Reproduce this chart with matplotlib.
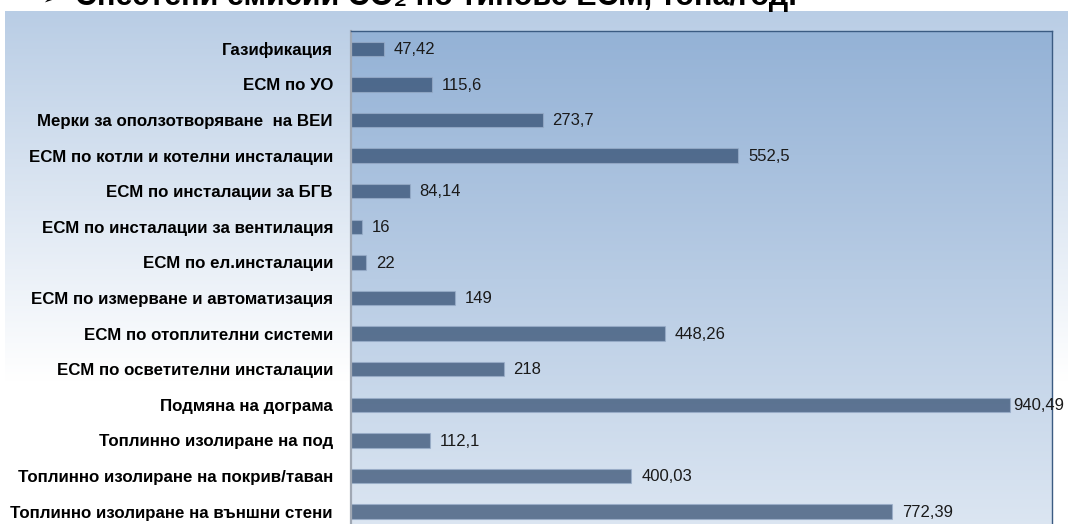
import numpy as np
import matplotlib.pyplot as plt
from matplotlib.colors import LinearSegmentedColormap

# Data (top to bottom as shown)
categories = [
    "Газификация",
    "ЕСМ по УО",
    "Мерки за оползотворяване  на ВЕИ",
    "ЕСМ по котли и котелни инсталации",
    "ЕСМ по инсталации за БГВ",
    "ЕСМ по инсталации за вентилация",
    "ЕСМ по ел.инсталации",
    "ЕСМ по измерване и автоматизация",
    "ЕСМ по отоплителни системи",
    "ЕСМ по осветителни инсталации",
    "Подмяна на дограма",
    "Топлинно изолиране на под",
    "Топлинно изолиране на покрив/таван",
    "Топлинно изолиране на външни стени",
]
values = [47.42, 115.6, 273.7, 552.5, 84.14, 16, 22, 149, 448.26, 218,
          940.49, 112.1, 400.03, 772.39]
title = "Спестени емисии CO₂ по типове ЕСМ, тона/год."

W, H = 1068, 524
fig = plt.figure(figsize=(W / 100, H / 100), dpi=100)
fig.patch.set_facecolor("white")
fam = ["Liberation Sans", "DejaVu Sans"]

# outer chart area: vertical gradient fading to white
bg = fig.add_axes([5 / W, 0, 1 - 5 / W, 1 - 11 / H], zorder=-2)
bg.set_axis_off()
yy = np.linspace(0, 1, 256)  # 0 = top
frac = np.clip(yy * (513 / 369), 0, 1)
top_c = np.array([0xB9, 0xCD, 0xE5]) / 255
grad = top_c[None, :] * (1 - frac[:, None]) + frac[:, None]
bg.imshow(grad[:, None, :], extent=[0, 1, 0, 1], aspect="auto", origin="upper")

# plot area (runs a little past the bottom edge, like the reference)
ax = fig.add_axes([351 / W, 1 - 529.4 / H, (1052 - 351) / W, 498.4 / H])
cmap = LinearSegmentedColormap.from_list("pa", ["#94B2D6", "#DCE6F2"])
ax.imshow(np.linspace(0, 1, 256)[:, None], cmap=cmap, extent=[0, 1, 0, 1],
          transform=ax.transAxes, aspect="auto", origin="upper", zorder=0)

y = np.arange(len(categories))
ax.barh(y, values, height=0.4, color="#2D486C", alpha=0.7,
        edgecolor="#9AAECA", linewidth=0.8, zorder=2)

ax.set_xlim(0, 1000)
for yi, v in zip(y, values):
    # the longest label sits tight against its bar so it fits in the frame
    pad = 2 if v > 0.9 * ax.get_xlim()[1] else 7
    ax.annotate(f"{v:g}".replace(".", ","), (v, yi), xytext=(pad, -0.5),
                textcoords="offset points", va="center", ha="left",
                fontsize=12, color="#1a1a1a", family=fam, zorder=3,
                annotation_clip=False)

ax.set_ylim(len(categories) - 0.5, -0.5)
ax.set_yticks(y)
ax.set_yticklabels(categories, fontsize=12.2, fontweight="bold", family=fam)
ax.tick_params(axis="y", length=0, pad=13)
ax.set_xticks([])
ax.set_facecolor("none")

ax.spines["left"].set_color("#A0A8B4")
ax.spines["left"].set_linewidth(1.6)
for s in ("top", "right"):
    ax.spines[s].set_color("#3B5B82")
    ax.spines[s].set_linewidth(1.0)
ax.spines["bottom"].set_visible(False)

# title, cut off at the top edge as in the reference
fig.text(42 / W, 1 - 4 / H, "➢", fontsize=12, family=["DejaVu Sans"],
         va="baseline", ha="left")
fig.text(75 / W, 1 - 5 / H, title, fontsize=22, fontweight="bold",
         family=fam, va="baseline", ha="left")

fig.savefig("out.png", dpi=100)
